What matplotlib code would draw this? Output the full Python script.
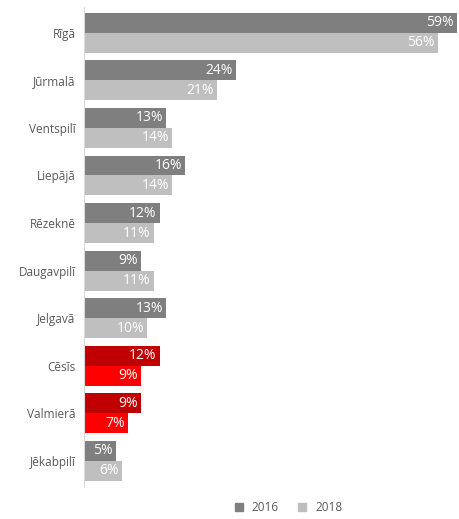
import matplotlib.pyplot as plt
import numpy as np

cities = ["Rīgā", "Jūrmalā", "Ventspilī", "Liepājā", "Rēzeknē",
          "Daugavpilī", "Jelgavā", "Cēsīs", "Valmierā", "Jēkabpilī"]
v2016 = [59, 24, 13, 16, 12, 9, 13, 12, 9, 5]
v2018 = [56, 21, 14, 14, 11, 11, 10, 9, 7, 6]
highlight = ["Cēsīs", "Valmierā"]

plt.rcParams['font.family'] = ['Open Sans', 'DejaVu Sans']

fig = plt.figure(figsize=(4.59, 5.19), dpi=100)
ax = fig.add_axes([0.183, 0.062, 0.815, 0.925])

y = np.arange(len(cities))
h = 0.42
c16 = ['#c00000' if c in highlight else '#7f7f7f' for c in cities]
c18 = ['#ff0000' if c in highlight else '#bfbfbf' for c in cities]

b1 = ax.barh(y - h / 2, v2016, height=h, color=c16, label='2016')
b2 = ax.barh(y + h / 2, v2018, height=h, color=c18, label='2018')

for bars, vals in [(b1, v2016), (b2, v2018)]:
    for b, v in zip(bars, vals):
        ax.text(b.get_width() - 0.5, b.get_y() + b.get_height() / 2, f"{v}%",
                ha='right', va='center', color='white', fontsize=10)

ax.set_yticks(y)
ax.set_yticklabels(cities, color='#595959', fontsize=8.5)
ax.tick_params(axis='y', length=0, pad=6)
ax.set_xticks([])
ax.set_xlim(0, 59.2)
ax.set_ylim(len(cities) - 0.5 + 0.05, -0.5 - 0.05)
for s in ['top', 'right', 'bottom']:
    ax.spines[s].set_visible(False)
ax.spines['left'].set_color('#d9d9d9')

h1 = plt.Line2D([], [], marker='s', color='#7f7f7f', linestyle='', markersize=6)
h2 = plt.Line2D([], [], marker='s', color='#bfbfbf', linestyle='', markersize=6)
fig.legend([h1, h2], ['2016', '2018'], loc='center', bbox_to_anchor=(0.62, 0.022),
           ncol=2, frameon=False, fontsize=8.5, handletextpad=0.1, columnspacing=1.0,
           labelcolor='#595959', borderpad=0.1)

fig.savefig('out.png', dpi=100)
